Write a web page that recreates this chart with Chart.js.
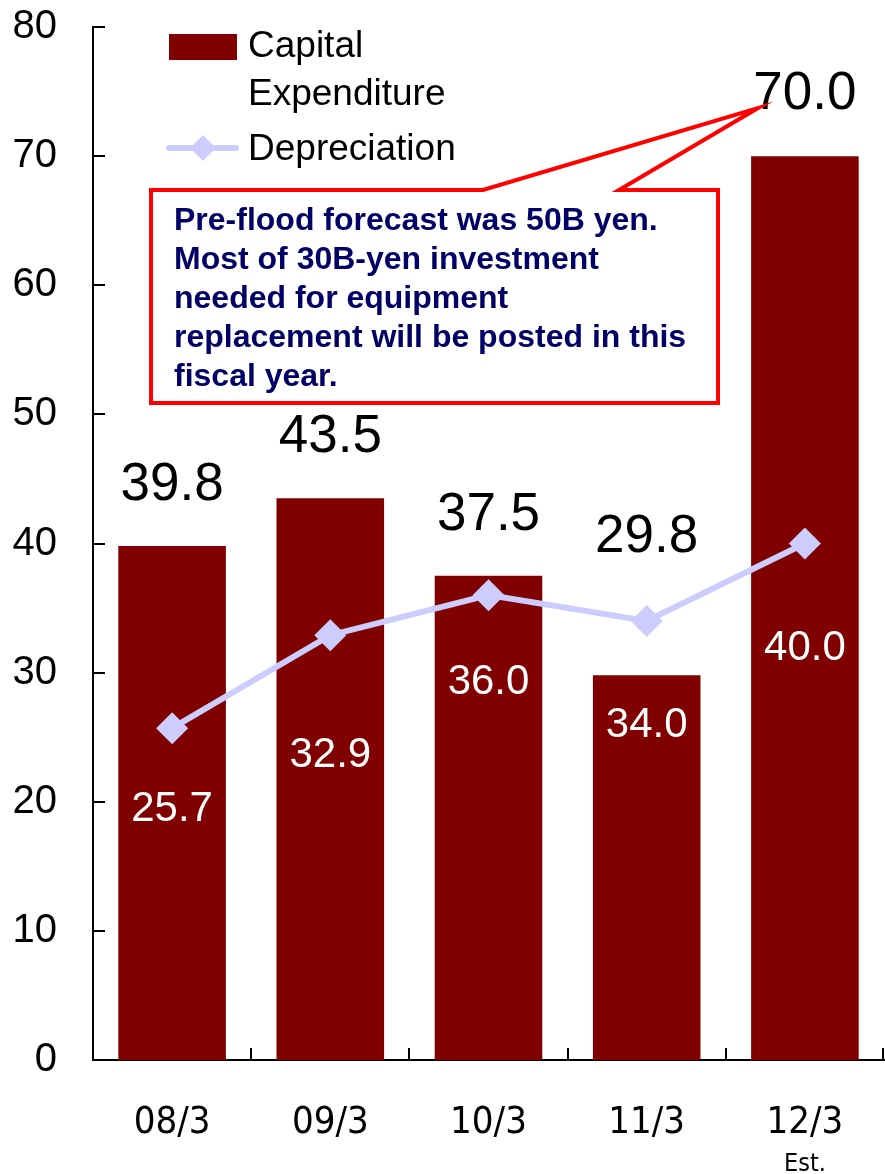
<!DOCTYPE html>
<html>
<head>
<meta charset="utf-8">
<script src="https://cdn.jsdelivr.net/npm/chart.js@4.4.1/dist/chart.umd.min.js"></script>
<style>
  html, body { margin: 0; padding: 0; background: #fff; }
  #wrap { width: 885px; height: 1174px; }
</style>
</head>
<body>
<div id="wrap"><canvas id="chart" width="885" height="1174"></canvas></div>
<script>
// values (billion yen)
const categories = ['08/3', '09/3', '10/3', '11/3', '12/3']
const capex = [39.8, 43.5, 37.5, 29.8, 70.0]
const depreciation = [25.7, 32.9, 36.0, 34.0, 40.0]
const yMin = 0, yMax = 80, yStep = 10

const seriesNames = [['Capital', 'Expenditure'], 'Depreciation']
const estNote = 'Est.'
const calloutLines = [
  'Pre-flood forecast was 50B yen.',
  'Most of 30B-yen investment',
  'needed for equipment',
  'replacement will be posted in this',
  'fiscal year.'
]

// label placement tweaks (pixels relative to the mark)
const capLabelDy = [-61, -61, -60, -138, -62]
const depLabelDy = [81, 120, 87, 104, 105]

const BAR = '#800000'
const LINE = '#ccccff'
const SANS = '"Liberation Sans", Arial, sans-serif'
const NARROW = '"DejaVu Sans Condensed", "Liberation Sans Narrow", "Liberation Sans", sans-serif'

const overlay = {
  id: 'overlay',
  afterDatasetsDraw(chart) {
    const ctx = chart.ctx
    const xs = chart.scales.x, ys = chart.scales.y, area = chart.chartArea
    ctx.save()

    // inward tick marks
    ctx.strokeStyle = '#000'
    ctx.lineWidth = 2
    ys.ticks.forEach(t => {
      const py = Math.round(ys.getPixelForValue(t.value))
      ctx.beginPath(); ctx.moveTo(area.left, py); ctx.lineTo(area.left + 12, py); ctx.stroke()
    })
    for (let i = 0; i < categories.length; i++) {
      const px = i < categories.length - 1
        ? Math.round((xs.getPixelForValue(i) + xs.getPixelForValue(i + 1)) / 2)
        : area.right - 1
      ctx.beginPath(); ctx.moveTo(px, area.bottom); ctx.lineTo(px, area.bottom - 12); ctx.stroke()
    }

    // value labels
    const bars = chart.getDatasetMeta(0).data
    const pts = chart.getDatasetMeta(1).data
    ctx.textAlign = 'center'
    ctx.textBaseline = 'middle'
    ctx.fillStyle = '#000'
    ctx.font = '53px ' + SANS
    bars.forEach((b, i) => ctx.fillText(capex[i].toFixed(1), b.x, b.y + capLabelDy[i]))
    ctx.fillStyle = '#fff'
    ctx.font = '42px ' + SANS
    pts.forEach((p, i) => ctx.fillText(depreciation[i].toFixed(1), p.x, p.y + depLabelDy[i]))

    // "Est." under the last category
    ctx.fillStyle = '#000'
    ctx.font = '25px ' + NARROW
    ctx.fillText(estNote, xs.getPixelForValue(categories.length - 1), 1164)

    // legend
    ctx.fillStyle = BAR
    ctx.fillRect(169, 34, 68, 26)
    ctx.strokeStyle = LINE
    ctx.lineWidth = 6
    ctx.lineCap = 'round'
    ctx.beginPath(); ctx.moveTo(169, 148); ctx.lineTo(236, 148); ctx.stroke()
    ctx.fillStyle = LINE
    ctx.beginPath()
    ctx.moveTo(203, 135); ctx.lineTo(216, 148); ctx.lineTo(203, 161); ctx.lineTo(190, 148)
    ctx.closePath(); ctx.fill()
    ctx.fillStyle = '#000'
    ctx.textAlign = 'left'
    ctx.font = '37px ' + SANS
    ctx.fillText(seriesNames[0][0], 248, 47)
    ctx.fillText(seriesNames[0][1], 248, 95)
    ctx.fillText(seriesNames[1], 248, 150)

    // callout box pointing at the 12/3 figure
    ctx.beginPath()
    ctx.moveTo(151, 190); ctx.lineTo(483, 190); ctx.lineTo(758, 108); ctx.lineTo(619, 190)
    ctx.lineTo(718, 190); ctx.lineTo(718, 403); ctx.lineTo(151, 403); ctx.closePath()
    ctx.fillStyle = '#fff'
    ctx.fill()
    ctx.strokeStyle = '#ff0000'
    ctx.lineWidth = 4
    ctx.lineJoin = 'miter'
    ctx.lineCap = 'butt'
    ctx.stroke()
    ctx.fillStyle = '#000066'
    ctx.font = 'bold 32px ' + SANS
    calloutLines.forEach((s, i) => ctx.fillText(s, 174, 221 + i * 39))

    ctx.restore()
  }
}

new Chart(document.getElementById('chart').getContext('2d'), {
  data: {
    labels: categories,
    datasets: [
      {
        type: 'bar',
        label: 'Capital Expenditure',
        data: capex,
        backgroundColor: BAR,
        borderWidth: 0,
        categoryPercentage: 1,
        barPercentage: 0.68,
        order: 1
      },
      {
        type: 'line',
        label: 'Depreciation',
        data: depreciation,
        borderColor: LINE,
        backgroundColor: LINE,
        borderWidth: 6,
        pointStyle: 'rectRot',
        pointRadius: 16,
        pointBorderWidth: 0,
        pointBackgroundColor: LINE,
        tension: 0,
        order: 0
      }
    ]
  },
  options: {
    responsive: false,
    animation: false,
    devicePixelRatio: 1,
    layout: { autoPadding: false, padding: { left: 0, top: 27, right: 1, bottom: 0 } },
    plugins: { legend: { display: false }, tooltip: { enabled: false } },
    scales: {
      x: {
        grid: { display: false, drawTicks: false },
        border: { display: true, color: '#000', width: 2 },
        ticks: { color: '#000', padding: 40, font: { family: NARROW, size: 38 } },
        afterFit(scale) {
          scale.height = 114
          scale.paddingLeft = 0
          scale.paddingRight = 0
        }
      },
      y: {
        min: yMin,
        max: yMax,
        grid: { display: false, drawTicks: false },
        border: { display: true, color: '#000', width: 2 },
        ticks: { stepSize: yStep, color: '#000', padding: 36, font: { family: SANS, size: 40 } },
        afterFit(scale) {
          scale.width = 93
          scale.paddingTop = 0
          scale.paddingBottom = 0
        }
      }
    }
  },
  plugins: [overlay]
})
</script>
</body>
</html>
